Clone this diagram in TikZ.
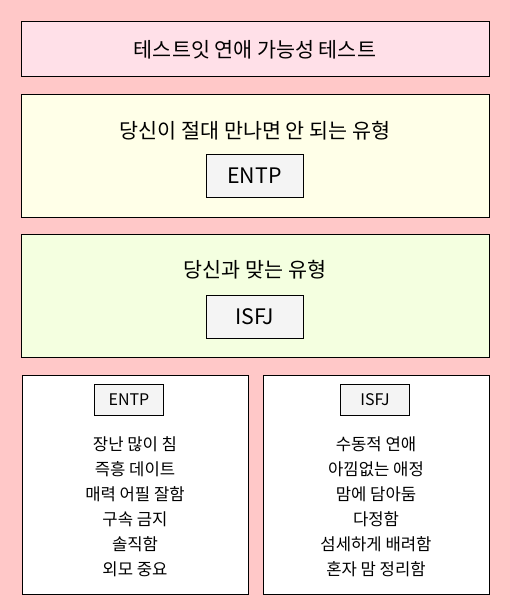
\documentclass[tikz,border=0pt]{standalone}
\usepackage{fontspec}
\setmainfont{Noto Sans CJK KR}
\usepackage{tikz}

\definecolor{bgPink}{HTML}{FFC8C8}
\definecolor{titlePink}{HTML}{FFE0E8}
\definecolor{avoidYellow}{HTML}{FFFFE8}
\definecolor{matchGreen}{HTML}{F4FFE0}
\definecolor{tagGray}{HTML}{F4F4F4}

\begin{document}
\begin{tikzpicture}[x=0.75pt,y=-0.75pt,
		panel/.style={rectangle, draw, line width=0.75pt, inner sep=0pt},
		tag/.style={rectangle, draw, line width=0.75pt, fill=tagGray, inner sep=0pt},
		heading/.style={font=\fontsize{15.5}{17}\selectfont}]
		
		\fill[bgPink] (0,0) rectangle (510,610);
		\useasboundingbox (0,0) rectangle (510,610);
		
		% Frames
		
		\node[panel, fill=titlePink, minimum width=351pt, minimum height=41.25pt]
		(titleBox) at (255,49.5) {};
		
		\node[panel, fill=avoidYellow, minimum width=351pt, minimum height=92.25pt]
		(avoidBox) at (255,155.5) {};
		
		\node[panel, fill=matchGreen, minimum width=351pt, minimum height=92.25pt]
		(matchBox) at (255,295.5) {};
		
		\node[panel, fill=white, minimum width=169.5pt, minimum height=164.25pt]
		(entpBox) at (135,484.5) {};
		
		\node[panel, fill=white, minimum width=169.5pt, minimum height=164.25pt]
		(isfjBox) at (376,484.5) {};
		
		% Texts
		
		\node[heading] (titleText) at (255,49.5) {테스트잇 연애 가능성 테스트};
		
		\node[heading] (avoidText) at (255,131) {당신이 절대 만나면 안 되는 유형};
		
		\node[tag, minimum width=72.75pt, minimum height=32.25pt, font=\fontsize{16}{18}\selectfont]
		(avoidType) at (254.5,175.5) {ENTP};
		
		\node[heading] (matchText) at (255,270) {당신과 맞는 유형};
		
		\node[tag, minimum width=72.75pt, minimum height=32.25pt, font=\fontsize{16}{18}\selectfont]
		(matchType) at (254.5,316.5) {ISFJ};
		
		\node[tag, minimum width=51.75pt, minimum height=23.25pt, font=\fontsize{12}{14}\selectfont]
		(entpTag) at (129,399.5) {ENTP};
		
		\node[tag, minimum width=51.75pt, minimum height=23.25pt, font=\fontsize{12}{14}\selectfont]
		(isfjTag) at (375,399.5) {ISFJ};
		
		\node[align=center, anchor=north, font=\fontsize{12.5}{18.75}\selectfont]
		(entpList) at (135,432) {장난 많이 침\\즉흥 데이트\\매력 어필 잘함\\구속 금지\\솔직함\\외모 중요};
		
		\node[align=center, anchor=north, font=\fontsize{12.5}{18.75}\selectfont]
		(isfjList) at (376,432) {수동적 연애\\아낌없는 애정\\맘에 담아둠\\다정함\\섬세하게 배려함\\혼자 맘 정리함};
		
	\end{tikzpicture}
\end{document}
